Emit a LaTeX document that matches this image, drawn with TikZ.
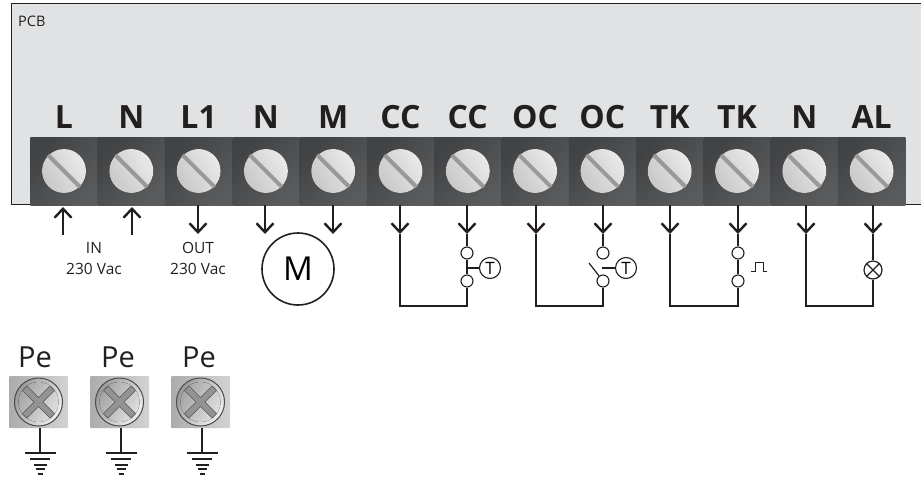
\documentclass[tikz,border=0pt]{standalone}
\usepackage{fontspec}
\setmainfont{Open Sans}
\usetikzlibrary{arrows.meta, positioning}

\definecolor{board}{HTML}{E1E2E3}
\definecolor{blockdark}{HTML}{414244}
\definecolor{blocklight}{HTML}{5A5B5D}
\definecolor{wire}{HTML}{231F20}

\tikzset{
    term/.style={
        minimum width=67.3pt, minimum height=68pt, inner sep=0pt, outer sep=0pt,
        left color=blockdark, right color=blocklight, shading angle=45,
        label={[termtext]above:#1},
        path picture={
            \fill[left color=gray!10, right color=gray!50, shading angle=-60]
                (path picture bounding box.center) circle (22pt);
            \draw[line width=4pt, color=gray!80]
                ([shift={(-16pt,16pt)}]path picture bounding box.center) --
                ([shift={(16pt,-16pt)}]path picture bounding box.center);
        },
    },
    termtext/.style={font=\bfseries\fontsize{32}{32}\selectfont, text=wire, inner sep=0pt, yshift=8pt},
    feed/.style={draw=wire, line width=1.2pt, -{Straight Barb[length=9pt,width=17pt,line width=2.4pt]}},
    back/.style={draw=wire, line width=2pt},
    contact/.style={circle, draw=wire, fill=white, line width=1.1pt, minimum size=12pt, inner sep=0pt},
    thermo/.style={circle, draw=wire, fill=white, line width=1.1pt, minimum size=21pt, inner sep=0pt,
        font=\fontsize{17}{17}\selectfont},
    pebox/.style={
        minimum width=59pt, minimum height=52pt, inner sep=0pt, outer sep=0pt, rounded corners=1pt,
        left color=gray!65, right color=gray!35,
        path picture={
            \fill[left color=gray!85, right color=gray!5, shading angle=60]
                (path picture bounding box.center) circle (24pt);
            \draw[line width=1pt, color=gray!140]
                (path picture bounding box.center) circle (24pt);
            \fill[left color=gray!70, right color=gray!25, shading angle=60]
                (path picture bounding box.center) circle (20pt);
            \draw[line width=7pt, color=gray!130]
                ([shift={(-14pt,14pt)}]path picture bounding box.center) --
                ([shift={(14pt,-14pt)}]path picture bounding box.center)
                ([shift={(-14pt,-14pt)}]path picture bounding box.center) --
                ([shift={(14pt,14pt)}]path picture bounding box.center);
            \draw[line width=5.5pt, color=gray!85]
                ([shift={(-13.5pt,13.5pt)}]path picture bounding box.center) --
                ([shift={(13.5pt,-13.5pt)}]path picture bounding box.center)
                ([shift={(-13.5pt,-13.5pt)}]path picture bounding box.center) --
                ([shift={(13.5pt,13.5pt)}]path picture bounding box.center);
        },
    },
    petext/.style={font=\fontsize{29}{29}\selectfont, text=wire, inner sep=0pt},
    smalltext/.style={font=\fontsize{15.5}{21}\selectfont, text=wire, align=center, inner sep=0pt},
    earth/.pic={
        \draw[back]
            (-15.5,0) -- (15.5,0)
            (-10,6)   -- (10,6)
            (-6.5,12) -- (6.5,12)
            (-4.5,16) -- (4.5,16)
            (-2.5,21) -- (2.5,21);
    },
}

\begin{document}
\begin{tikzpicture}[
    x=1pt,
    y=-1pt,
    node distance=67.3pt,
    on grid,
]
    \useasboundingbox (0,0) rectangle (921,477);

    % board
    \draw[fill=board, draw=wire, line width=1pt] (921,3.5) -- (11.5,3.5) -- (11.5,204.5) -- (921,204.5);
    \node[anchor=west, inner sep=0pt, font=\fontsize{14.5}{14.5}\selectfont, text=wire] (pcb) at (18,21) {PCB};

    % terminal row
    \node[term=L]                  (tL)   at (64,171) {};
    \node[term=N,  right=of tL]    (tN)   {};
    \node[term=L1, right=of tN]    (tLo)  {};
    \node[term=N,  right=of tLo]   (tNm)  {};
    \node[term=M,  right=of tNm]   (tM)   {};
    \node[term=CC, right=of tM]    (tCa)  {};
    \node[term=CC, right=of tCa]   (tCb)  {};
    \node[term=OC, right=of tCb]   (tOa)  {};
    \node[term=OC, right=of tOa]   (tOb)  {};
    \node[term=TK, right=of tOb]   (tTa)  {};
    \node[term=TK, right=of tTa]   (tTb)  {};
    \node[term=N,  right=of tTb]   (tNa)  {};
    \node[term=AL, right=of tNa]   (tAL)  {};

    % wire ends
    \coordinate (aL)  at (63,207);
    \coordinate (aN)  at (132,207);
    \coordinate (bL)  at (63,235);
    \coordinate (bN)  at (132,235);
    \coordinate (aLo) at (198,234);
    \coordinate (aNm) at (265,234);
    \coordinate (aM)  at (333,234);
    \coordinate (aCa) at (400,234);
    \coordinate (aCb) at (467,234);
    \coordinate (aOa) at (536,234);
    \coordinate (aOb) at (603,234);
    \coordinate (aTa) at (670,234);
    \coordinate (aTb) at (738,234);
    \coordinate (aNa) at (806,234);
    \coordinate (aAL) at (873,234);

    \path
        (bL)  edge [feed] (aL)
        (bN)  edge [feed] (aN)
        (aLo |- tLo.south) edge [feed] (aLo)
        (aNm |- tNm.south) edge [feed] (aNm)
        (aM  |- tM.south)  edge [feed] (aM)
        (aCa |- tCa.south) edge [feed] (aCa)
        (aCb |- tCb.south) edge [feed] (aCb)
        (aOa |- tOa.south) edge [feed] (aOa)
        (aOb |- tOb.south) edge [feed] (aOb)
        (aTa |- tTa.south) edge [feed] (aTa)
        (aTb |- tTb.south) edge [feed] (aTb)
        (aNa |- tNa.south) edge [feed] (aNa)
        (aAL |- tAL.south) edge [feed] (aAL)
    ;

    % loads
    \node[smalltext] (in)  at (94,258.5)  {IN\\230 Vac};
    \node[smalltext] (out) at (198,258.5) {OUT\\230 Vac};
    \node[circle, draw=wire, line width=1.6pt, minimum size=72pt, inner sep=0pt,
          font=\fontsize{33}{33}\selectfont] (motor) at (298,269) {M};

    % CC pair
    \node[contact] (cu) at (467,253) {};
    \node[contact] (cl) at (467,281) {};
    \node[thermo]  (ct) at (490,268) {T};
    \coordinate (cb) at (467,306);
    \coordinate (cw) at (466,268);
    \draw[back] (aCa) -- (aCa |- cb) -- (cb) -- (cl);
    \draw[back] (aCb) -- (cu) -- (cl);
    \draw[back] (cw) -- (ct);

    % OC pair
    \node[contact] (ou) at (603,253) {};
    \node[contact] (ol) at (603,281) {};
    \node[thermo]  (ot) at (626,268) {T};
    \coordinate (ob) at (603,306);
    \coordinate (os) at (589,263);
    \coordinate (ow) at (602,268);
    \draw[back] (aOa) -- (aOa |- ob) -- (ob) -- (ol);
    \draw[back] (aOb) -- (ou);
    \draw[wire, line width=1.2pt] (ol) -- (os);
    \draw[back] (ow) -- (ot);

    % TK pair
    \node[contact] (ku) at (738,253) {};
    \node[contact] (kl) at (738,281) {};
    \coordinate (kb) at (738,306);
    \draw[back] (aTa) -- (aTa |- kb) -- (kb) -- (kl);
    \draw[back] (aTb) -- (ku) -- (kl);
    \draw[wire, line width=0.9pt] (751,271) -- (755,271) -- (755,262) -- (763,262) -- (763,271) -- (767,271);

    % alarm pair
    \node[circle, draw=wire, fill=white, line width=1.2pt, minimum size=18pt, inner sep=0pt] (lamp) at (873,270) {};
    \coordinate (lb) at (873,306);
    \draw[back] (aNa) -- (aNa |- lb) -- (lb) -- (lamp);
    \draw[back] (aAL) -- (lamp);
    \draw[wire, line width=1.1pt] (lamp.north west) -- (lamp.south east) (lamp.north east) -- (lamp.south west);

    % earth
    \node[pebox] (pa) at (38.5,402)  {};
    \node[pebox] (pb) at (119.5,402) {};
    \node[pebox] (pc) at (200.5,402) {};
    \node[petext, anchor=base] (pat) at (35,367)  {Pe};
    \node[petext, anchor=base] (pbt) at (118,367) {Pe};
    \node[petext, anchor=base] (pct) at (199,367) {Pe};
    \coordinate (ga) at (40,453);
    \coordinate (gb) at (121,453);
    \coordinate (gc) at (202,453);
    \draw[back] (pa.south -| ga) -- (ga);
    \draw[back] (pb.south -| gb) -- (gb);
    \draw[back] (pc.south -| gc) -- (gc);
    \pic at (ga) {earth};
    \pic at (gb) {earth};
    \pic at (gc) {earth};
\end{tikzpicture}
\end{document}
